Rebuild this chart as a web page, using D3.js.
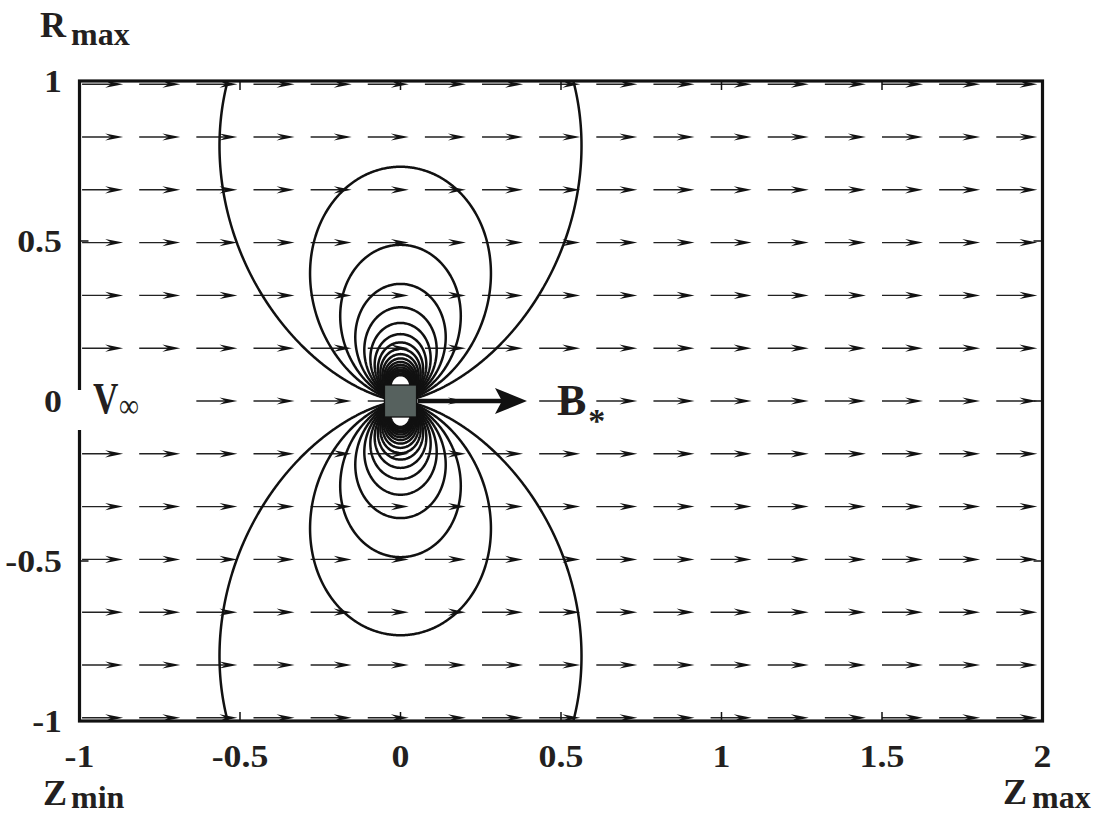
<!DOCTYPE html>
<html>
<head>
<meta charset="utf-8">
<script src="https://d3js.org/d3.v7.min.js"></script>
<style>
  body { margin: 0; background: #fff; }
  text { font-family: "Liberation Serif", "Times New Roman", serif; font-weight: bold; fill: #231f20; }
</style>
</head>
<body>
<div id="chart"></div>
<script>
// radius where each field line crosses z = 0 (outermost first)
const fieldLineR0 = [1.465, 0.732, 0.488, 0.366, 0.293, 0.244, 0.209, 0.183, 0.163,
                     0.1465, 0.133, 0.122, 0.113, 0.105, 0.098, 0.092, 0.086, 0.081];

// axis ticks
const zTicks = [-1, -0.5, 0, 0.5, 1, 1.5, 2];
const zTickLabels = ["-1", "-0.5", "0", "0.5", "1", "1.5", "2"];
const rTicks = [1, 0.5, 0, -0.5, -1];
const rTickLabels = ["1", "0.5", "0", "-0.5", "-1"];

// uniform flow arrows (tails) and their length
const arrowZ = [-0.992, -0.814, -0.636, -0.458, -0.28, -0.102, 0.076, 0.254, 0.432,
                0.61, 0.788, 0.966, 1.144, 1.322, 1.5, 1.678, 1.856];
const arrowR = [0.99, 0.825, 0.66, 0.495, 0.33, 0.165, 0, -0.165, -0.33, -0.495, -0.66, -0.825, -0.99];
const arrowLen = 0.128;

// body at the origin and its moment vector
const bodyHalf = 0.05;
const bArrowTip = 0.394;

var width = 1094, height = 814;

var svg = d3.select("#chart").append("svg")
  .attr("width", width)
  .attr("height", height);

var x = d3.scaleLinear().domain([-1, 2]).range([79.5, 1042.5]);
var y = d3.scaleLinear().domain([-1, 1]).range([721, 81]);

svg.append("defs").append("clipPath").attr("id", "plot-clip")
  .append("rect")
  .attr("x", x(-1)).attr("y", y(1))
  .attr("width", x(2) - x(-1)).attr("height", y(-1) - y(1));

/* quiver of the free stream */
var arrows = [];
arrowR.forEach(r => arrowZ.forEach(z => arrows.push({z: z, r: r})));

var q = svg.append("g").attr("class", "quiver");
q.selectAll("line")
  .data(arrows).enter()
  .append("line")
  .attr("x1", d => x(d.z))
  .attr("x2", d => x(d.z + arrowLen) - 8)
  .attr("y1", d => y(d.r))
  .attr("y2", d => y(d.r))
  .attr("stroke", "#222")
  .attr("stroke-width", 1.4);
q.selectAll("path")
  .data(arrows).enter()
  .append("path")
  .attr("d", d => {
    var tx = x(d.z + arrowLen), ty = y(d.r);
    return `M${tx},${ty} L${tx - 18},${ty - 3.6} L${tx - 12},${ty} L${tx - 18},${ty + 3.6} Z`;
  })
  .attr("fill", "#111");

/* dipole field lines: contours of the stream function r^2 / (z^2 + r^2)^(3/2) */
var pad = 4;
var gx0 = Math.floor(x(-1)) - pad, gx1 = Math.ceil(x(2)) + pad;
var gy0 = Math.floor(y(1)) - pad, gy1 = Math.ceil(y(-1)) + pad;
var nx = gx1 - gx0, ny = gy1 - gy0;
var values = new Array(nx * ny);
for (var j = 0; j < ny; j++) {
  var r = y.invert(gy0 + j + 0.5);
  for (var i = 0; i < nx; i++) {
    var z = x.invert(gx0 + i + 0.5);
    var rho2 = z * z + r * r;
    values[i + j * nx] = rho2 > 1e-12 ? (r * r) / Math.pow(rho2, 1.5) : 0;
  }
}
var contours = d3.contours()
  .size([nx, ny])
  .thresholds(fieldLineR0.map(d => 1 / d))(values);

var toPx = d3.geoTransform({
  point: function(px, py) { this.stream.point(gx0 + px, gy0 + py); }
});
var path = d3.geoPath(toPx);

svg.append("g")
  .attr("clip-path", "url(#plot-clip)")
  .selectAll("path")
  .data(contours).enter()
  .append("path")
  .attr("d", path)
  .attr("fill", "none")
  .attr("stroke", "#111")
  .attr("stroke-width", 2.5);

/* body and moment arrow */
svg.append("rect")
  .attr("x", x(-bodyHalf)).attr("y", y(bodyHalf))
  .attr("width", x(bodyHalf) - x(-bodyHalf))
  .attr("height", y(-bodyHalf) - y(bodyHalf))
  .attr("fill", "#56615e")
  .attr("stroke", "#111")
  .attr("stroke-width", 1.3);

var tipX = x(bArrowTip), y0 = y(0);
svg.append("line")
  .attr("x1", x(bodyHalf) + 1).attr("x2", tipX - 25)
  .attr("y1", y0).attr("y2", y0)
  .attr("stroke", "#111").attr("stroke-width", 4.5);
svg.append("path")
  .attr("d", `M${tipX},${y0} L${tipX - 32},${y0 - 13} L${tipX - 25},${y0} L${tipX - 32},${y0 + 13} Z`)
  .attr("fill", "#111");

/* frame and inward ticks */
var frame = svg.append("g");
frame.append("rect")
  .attr("x", x(-1)).attr("y", y(1))
  .attr("width", x(2) - x(-1)).attr("height", y(-1) - y(1))
  .attr("fill", "none")
  .attr("stroke", "#111")
  .attr("stroke-width", 3.2);

var tl = 9;
frame.selectAll(".ztick")
  .data(zTicks.slice(1, -1)).enter()
  .append("path")
  .attr("d", d => `M${x(d)},${y(1)} v${tl} M${x(d)},${y(-1)} v${-tl}`)
  .attr("stroke", "#111").attr("stroke-width", 1.5);
frame.selectAll(".rtick")
  .data(rTicks.slice(1, -1)).enter()
  .append("path")
  .attr("d", d => `M${x(-1)},${y(d)} h${tl} M${x(2)},${y(d)} h${-tl}`)
  .attr("stroke", "#111").attr("stroke-width", 1.5);

/* tick labels (the original type is a little wider than Liberation Serif) */
var stretch = 1.12;
svg.append("g")
  .selectAll("text")
  .data(zTicks).enter()
  .append("text")
  .attr("transform", d => `translate(${x(d)},767) scale(${stretch},1)`)
  .attr("text-anchor", "middle")
  .attr("font-size", 32)
  .text((d, i) => zTickLabels[i]);

svg.append("g")
  .selectAll("text")
  .data(rTicks).enter()
  .append("text")
  .attr("transform", d => `translate(62,${y(d)}) scale(${stretch},1)`)
  .attr("dy", "0.33em")
  .attr("text-anchor", "end")
  .attr("font-size", 32)
  .text((d, i) => rTickLabels[i]);

/* annotations */
svg.append("rect")
  .attr("x", x(-1) - 4).attr("y", 390)
  .attr("width", 112).attr("height", 40)
  .attr("fill", "#fff");

function label(px, py, main, sub, size, subSize, subDx, subDy, sx) {
  var t = svg.append("text")
    .attr("transform", `translate(${px},${py}) scale(${sx || 1},1)`)
    .attr("font-size", size);
  t.append("tspan").text(main);
  t.append("tspan").attr("dx", subDx).attr("dy", subDy).attr("font-size", subSize).text(sub);
}
label(40, 37, "R", "max", 36, 32, 5, 8);
label(43, 805, "Z", "min", 36, 32, 4, 3);
label(1003, 804, "Z", "max", 36, 32, 5, 4);
label(93, 413, "V", "\u221e", 44, 34, 1, 4, 0.8);
label(557, 415, "B", "*", 44, 34, 2, 17);
</script>
</body>
</html>
